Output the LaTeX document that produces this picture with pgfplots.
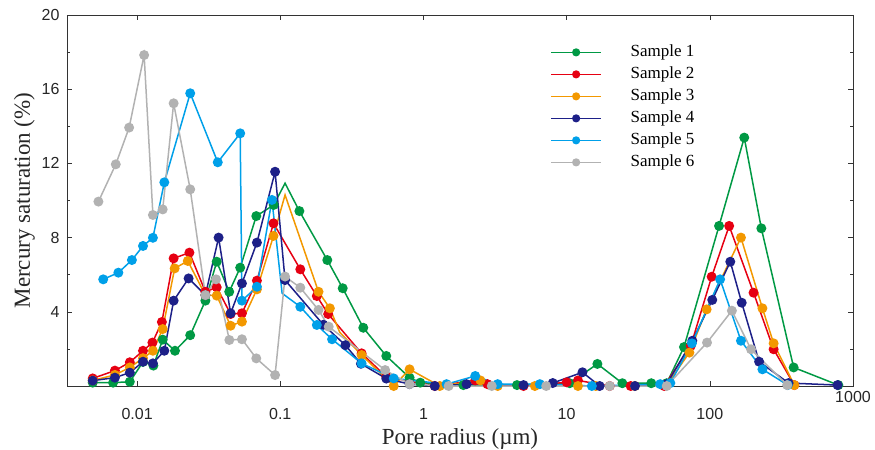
\documentclass[border=0pt]{standalone}
\usepackage{pgfplots}
\pgfplotsset{compat=1.18}
\usepackage{fontspec}
\setmainfont{Liberation Serif}
\newfontfamily\tickfont{Liberation Sans}

\definecolor{sone}{RGB}{0,153,68}
\definecolor{stwo}{RGB}{230,0,18}
\definecolor{sthree}{RGB}{243,152,0}
\definecolor{sfour}{RGB}{29,32,136}
\definecolor{sfive}{RGB}{0,160,233}
\definecolor{ssix}{RGB}{178,178,178}

\begin{document}
\begin{tikzpicture}
\begin{axis}[
    scale only axis, width=786pt, height=371pt,
    xmode=log, log basis x=10,
    xmin=0.00324, xmax=1000, ymin=0, ymax=20,
    xtick={0.01,0.1,1,10,100,1000},
    xticklabels={0.01,0.1,1,10,100,\raisebox{6.5pt}[0pt][0pt]{1000}},
    ytick={4,8,12,16,20}, minor ytick={2,6,10,14,18},
    tick align=inside, major tick length=5pt, minor tick length=3pt,
    tick style={black!80, line width=0.6pt},
    axis line style={black!80, line width=0.8pt},
    tick label style={font=\tickfont\fontsize{16}{16}\selectfont, black!85},
    xticklabel style={yshift=-19pt},
    yticklabel style={xshift=-4pt},
    /pgf/number format/assume math mode=true,
    xlabel={Pore radius (µm)}, ylabel={Mercury saturation (\%)},
    label style={font=\fontsize{23}{26}\selectfont, black!85},
    xlabel style={at={(rel axis cs:0.5,0)}, anchor=base, yshift=-58pt},
    ylabel style={at={(rel axis cs:0,0.5)}, anchor=base, yshift=37pt},
    clip=false,
    every axis plot/.append style={line width=1.5pt, mark=*, mark size=4.2pt},
    legend style={at={(rel axis cs:0.615,0.92)}, anchor=north west, draw=none, fill=none,
        inner sep=0pt, row sep=7pt, font=\fontsize{17}{17}\selectfont,
        nodes={inner sep=0pt, text height=12pt, text depth=3pt},
        /tikz/every odd column/.append style={column sep=29pt}},
    legend cell align=left,
    legend image code/.code={\draw[#1, line width=1.1pt, mark size=3.5pt, mark indices={2}]
        plot coordinates {(0pt,0pt) (25pt,0pt) (50pt,0pt)};},
]
\coordinate (sw) at (rel axis cs:0,0);
\coordinate (ne) at (rel axis cs:1,1);

% Sample 1
\addplot[color=sone, mark indices={1,...,14,16,17,18,19,20,21,22,23,24,25,26,27,28,29,30,31,32,33,34,35}] coordinates {
 (0.0049,0.18) (0.0068,0.18) (0.0089,0.23) (0.011,1.3) (0.013,1.1) (0.0151,2.5)
 (0.0184,1.9) (0.0235,2.74) (0.030,4.6) (0.036,6.7) (0.044,5.08) (0.0525,6.38)
 (0.068,9.16) (0.090,9.76) (0.108,10.93) (0.136,9.43) (0.213,6.79) (0.273,5.27)
 (0.38,3.14) (0.55,1.62) (0.8,0.45) (0.95,0.18) (1.9,0.05) (4.5,0.05) (10.5,0.15)
 (16.4,1.19) (24.5,0.15) (39,0.15) (50,0.15) (66,2.1) (116,8.63) (174,13.39)
 (229,8.5) (385,1.0) (790,0.05)};
\addlegendentry{Sample 1}

% Sample 2
\addplot[color=stwo] coordinates {
 (0.0049,0.41) (0.0070,0.83) (0.0089,1.28) (0.011,1.9) (0.0128,2.34) (0.0149,3.45)
 (0.018,6.88) (0.0232,7.19) (0.030,5.08) (0.036,5.32) (0.045,3.88) (0.054,3.92)
 (0.0687,5.68) (0.0897,8.77) (0.138,6.29) (0.18,4.85) (0.216,3.88) (0.37,1.76)
 (0.55,0.5) (1.2,0) (2.3,0.3) (2.8,0.1) (5,0) (10,0.2) (12,0.3) (20,0) (28,0)
 (48,0) (73.6,2.16) (103,5.89) (136.5,8.63) (202,5.03) (279,1.98) (389,0.05)};
\addlegendentry{Sample 2}

% Sample 3
\addplot[color=sthree, mark indices={1,...,14,16,17,19,20,21,22,23,24,25,26,27,28,29,30,31,32,33,34,35}] coordinates {
 (0.0049,0.3) (0.0070,0.6) (0.0089,1.0) (0.011,1.5) (0.0129,1.9) (0.0151,3.07)
 (0.0183,6.34) (0.0226,6.74) (0.030,4.9) (0.036,4.87) (0.045,3.25) (0.054,3.47)
 (0.0687,5.21) (0.0897,8.09) (0.108,10.3) (0.185,5.08) (0.222,4.19) (0.26,2.9)
 (0.37,1.67) (0.62,0.0) (0.8,0.9) (1.3,0) (2.5,0.3) (3.3,0) (6,0) (12,0) (16,0)
 (30,0) (50,0.05) (72,1.8) (95,4.13) (165,8.0) (233,4.19) (279,2.3) (389,0.05)};
\addlegendentry{Sample 3}

% Sample 4
\addplot[color=sfour] coordinates {
 (0.0049,0.29) (0.0070,0.45) (0.0089,0.72) (0.011,1.31) (0.0129,1.22) (0.0155,1.9)
 (0.018,4.6) (0.0229,5.8) (0.030,4.9) (0.0371,8.0) (0.045,3.92) (0.054,5.53)
 (0.0687,7.73) (0.092,11.55) (0.108,5.71) (0.2,3.3) (0.285,2.2) (0.366,1.2)
 (0.55,0.4) (0.8,0.1) (1.2,0) (2,0.1) (5,0.05) (8,0.16) (12.9,0.74) (17,0) (30,0)
 (50,0.1) (75.5,2.44) (104,4.64) (139,6.7) (167,4.49) (221,1.31) (355,0.16) (780,0.05)};
\addlegendentry{Sample 4}

% Sample 5
\addplot[color=sfive, mark indices={1,...,12,14,15,16,17,18,19,20,21,22,23,24,25,26,27,28,29,30}] coordinates {
 (0.0058,5.75) (0.0074,6.11) (0.0092,6.79) (0.011,7.55) (0.0129,7.99) (0.0155,10.98)
 (0.0235,15.78) (0.0366,12.06) (0.0525,13.62) (0.054,4.6) (0.0687,5.35) (0.0875,10.03)
 (0.103,5.0) (0.138,4.27) (0.18,3.29) (0.23,2.52) (0.37,1.22) (0.62,0.41) (1.45,0.1)
 (2.3,0.54) (3.3,0.1) (6.5,0.1) (15,0) (45,0.1) (53,0.16) (75,2.3) (118,5.75)
 (165,2.44) (233,0.9) (350,0.05)};
\addlegendentry{Sample 5}

% Sample 6
\addplot[color=ssix] coordinates {
 (0.00537,9.94) (0.0071,11.95) (0.0088,13.93) (0.0112,17.84) (0.0129,9.22) (0.0151,9.52)
 (0.018,15.24) (0.0235,10.6) (0.030,4.9) (0.0356,5.75) (0.0441,2.48) (0.054,2.52)
 (0.068,1.49) (0.092,0.59) (0.108,5.9) (0.138,5.3) (0.185,4.1) (0.218,3.2) (0.54,0.86)
 (0.8,0.1) (1.5,0) (3,0) (7.2,0) (20,0) (50,0) (95.6,2.34) (142.6,4.06) (194,1.98) (347,0.05)};
\addlegendentry{Sample 6}
\end{axis}
\pgfresetboundingbox
\useasboundingbox ([shift={(-67pt,-63pt)}]sw) rectangle ([shift={(22pt,15pt)}]ne);
\end{tikzpicture}
\end{document}
